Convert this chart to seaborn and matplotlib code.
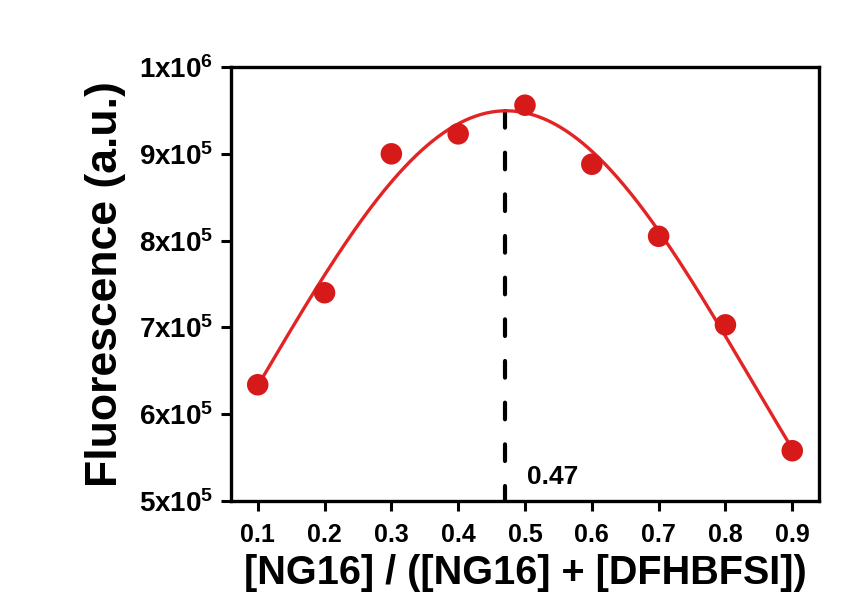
import numpy as np
import pandas as pd
import matplotlib
matplotlib.use("Agg")
import matplotlib.pyplot as plt
import seaborn as sns

# Job plot data: mole fraction vs. fluorescence intensity
mole_fraction = [0.1, 0.2, 0.3, 0.4, 0.5, 0.6, 0.7, 0.8, 0.9]
fluorescence = [6.34e5, 7.40e5, 9.00e5, 9.23e5, 9.56e5, 8.88e5, 8.05e5, 7.03e5, 5.58e5]
peak_x = 0.47
x_ticks = [0.1, 0.2, 0.3, 0.4, 0.5, 0.6, 0.7, 0.8, 0.9]
y_ticks = [5e5, 6e5, 7e5, 8e5, 9e5, 1e6]
y_tick_labels = ["5x10$^5$", "6x10$^5$", "7x10$^5$", "8x10$^5$", "9x10$^5$", "1x10$^6$"]

sns.set_style("ticks")
plt.rcParams["font.family"] = ["Liberation Sans", "DejaVu Sans"]
plt.rcParams["font.weight"] = "bold"
plt.rcParams["mathtext.fontset"] = "custom"
plt.rcParams["mathtext.rm"] = "Liberation Sans:bold"
plt.rcParams["mathtext.it"] = "Liberation Sans:bold"
plt.rcParams["mathtext.bf"] = "Liberation Sans:bold"
for key in ["text.color", "axes.labelcolor", "xtick.color", "ytick.color", "axes.edgecolor"]:
    plt.rcParams[key] = "black"

df = pd.DataFrame({"x": mole_fraction, "y": fluorescence})

# Gaussian fit (with baseline) through the measured points:
# scan centre and width, solve baseline and amplitude by linear least squares
xv = np.asarray(mole_fraction)
yv = np.asarray(fluorescence)
best = None
for xc in np.linspace(0.40, 0.55, 151):
    for w in np.linspace(0.10, 0.60, 251):
        g = np.exp(-(xv - xc) ** 2 / (2 * w ** 2))
        M = np.column_stack([np.ones_like(g), g])
        sol, *_ = np.linalg.lstsq(M, yv, rcond=None)
        err = np.sum((M @ sol - yv) ** 2)
        if best is None or err < best[0]:
            best = (err, xc, w, sol)
_, xc, w, (y0, amp) = best


def gauss(x):
    return y0 + amp * np.exp(-(x - xc) ** 2 / (2 * w ** 2))


xs = np.linspace(min(mole_fraction), max(mole_fraction), 300)
fit = pd.DataFrame({"x": xs, "y": gauss(xs)})
peak_y = gauss(peak_x)

fig, ax = plt.subplots(figsize=(8.6, 5.93), dpi=100)
fig.subplots_adjust(left=0.2686, right=0.9523, top=0.887, bottom=0.155)

sns.lineplot(data=fit, x="x", y="y", ax=ax, color="#e42424", linewidth=2.4, zorder=2)
sns.scatterplot(data=df, x="x", y="y", ax=ax, color="#d61a1a", s=240,
                edgecolor="none", zorder=3)

ax.plot([peak_x, peak_x], [peak_y, 5e5], color="black", linewidth=3.0,
        linestyle=(0, (4, 6)), dash_capstyle="round", zorder=1)
ax.text(0.503, 5.28e5, "0.47", fontsize=19, fontweight="bold", ha="left", va="center")

ax.set_xlim(0.06, 0.94)
ax.set_ylim(5e5, 1e6)
ax.set_xticks(x_ticks)
ax.set_xticklabels([f"{v:.1f}" for v in x_ticks])
ax.set_yticks(y_ticks)
ax.set_yticklabels(y_tick_labels)

ax.tick_params(axis="both", direction="out", length=7, width=2.2)
ax.tick_params(axis="x", labelsize=18, pad=9)
ax.tick_params(axis="y", labelsize=20, pad=6)
for lbl in ax.get_xticklabels() + ax.get_yticklabels():
    lbl.set_fontweight("bold")
for sp in ax.spines.values():
    sp.set_visible(True)
    sp.set_linewidth(2.4)

ax.set_xlabel("[NG16] / ([NG16] + [DFHBFSI])", fontsize=28.5, fontweight="bold", labelpad=5)
ax.set_ylabel("Fluorescence (a.u.)", fontsize=32, fontweight="bold", labelpad=9)

fig.savefig("out.png", dpi=100, facecolor="white")
